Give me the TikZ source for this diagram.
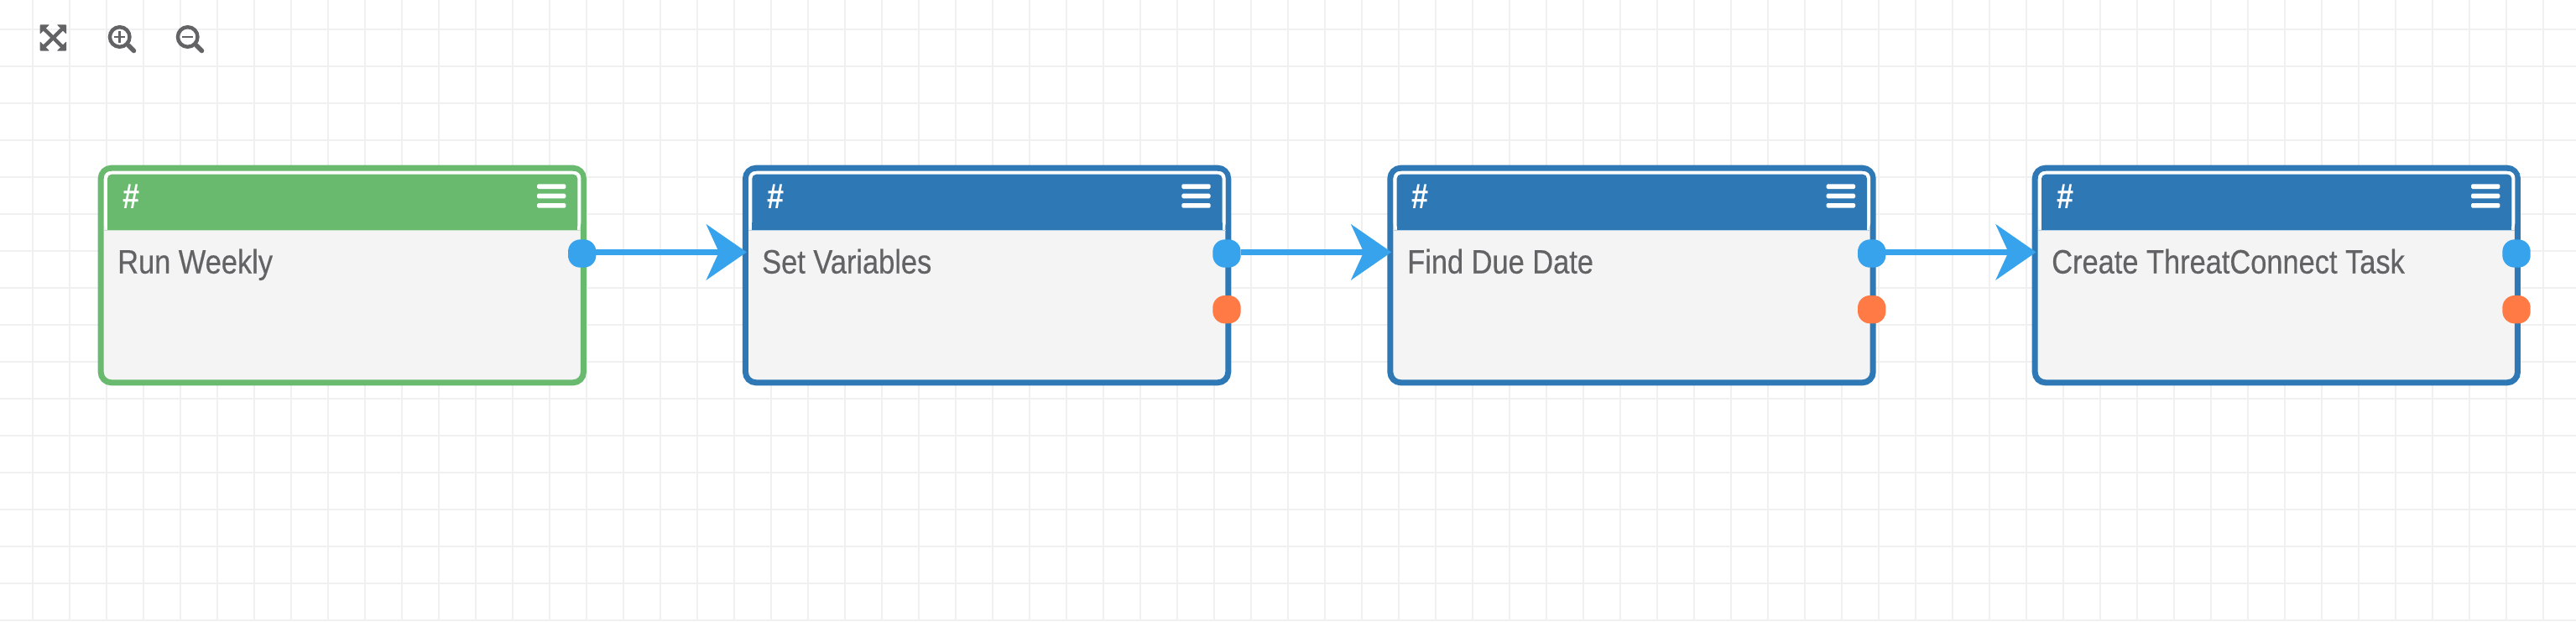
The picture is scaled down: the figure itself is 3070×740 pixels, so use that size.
\documentclass[tikz,border=0pt]{standalone}
\usepackage{fontspec}
\setmainfont[FakeStretch=0.86,FakeBold=0.35]{Liberation Sans}
\newfontfamily\hashfont[FakeStretch=0.86]{Liberation Sans Bold}
\usetikzlibrary{arrows.meta,calc}
\definecolor{gridc}{HTML}{F0F0F0}
\definecolor{greenc}{HTML}{69BA6F}
\definecolor{greenl}{HTML}{C9E3CA}
\definecolor{bluec}{HTML}{2E79B5}
\definecolor{bluel}{HTML}{B5CFE4}
\definecolor{edgec}{HTML}{36A3EC}
\definecolor{orangec}{HTML}{FF7A45}
\definecolor{inkc}{HTML}{636366}
\definecolor{bodyc}{HTML}{F4F4F4}
\tikzset{
  gridline/.style={draw=gridc,line width=2pt},
  flowbox/.style={draw=#1,fill=bodyc,line width=7pt,rounded corners=12.5pt,minimum width=575.3pt,minimum height=255.6pt,inner sep=0pt,outer sep=0pt},
  boxlabel/.style={anchor=base west,inner sep=0pt,text=inkc,font=\fontsize{40}{48}\selectfont},
  hashlabel/.style={anchor=base west,inner sep=0pt,text=white,font=\hashfont\fontsize{42}{48}\selectfont},
  portdot/.style={fill=#1,rounded corners=14.5pt,minimum size=33.4pt,inner sep=0pt,outer sep=0pt},
  connector/.style={draw=edgec,line width=7pt,-{Stealth[length=48pt,width=66pt,inset=15pt]}},
  bar/.style={fill=white,rounded corners=1.5pt},
  toolicon/.style={draw=inkc,line width=4.4pt},
}
\newcommand{\flowcard}[4]{% name, left x, colour, light colour
  \node[flowbox=#3] (#1) at (#2+290.8,328) {};
  \fill[white,rounded corners=8pt] (#2+7,204) -- (#2+575.3,204) -- (#2+575.3,274) -- (#2+7,274) -- cycle;
  \fill[#3,rounded corners=5pt] (#2+11,207.7) -- (#2+571.3,207.7) -- (#2+571.3,274.3) -- (#2+11,274.3) -- cycle;
  \fill[#3] (#2+11,265) rectangle (#2+571.3,274.3);
  \draw[#4,line width=1pt] (#2+7,274.5) -- (#2+575.3,274.5);
  \node[hashlabel] (#1h) at (#2+29,248.7) {\#};
  \fill[bar] (#2+523,219.3) rectangle (#2+557.3,225);
  \fill[bar] (#2+523,230.7) rectangle (#2+557.3,236.3);
  \fill[bar] (#2+523,242) rectangle (#2+557.3,247.7);
}
\begin{document}
\begin{tikzpicture}[x=1pt,y=-1pt]
\useasboundingbox (0,0) rectangle (3070,740);
\fill[white] (0,0) rectangle (3070,740);
\foreach \k in {0,...,69} \draw[gridline] (39+44*\k,0) -- (39+44*\k,740);
\foreach \k in {0,...,16} \draw[gridline] (0,35+44*\k) -- (3070,35+44*\k);

% toolbar
\fill[inkc,rounded corners=0.8pt] (47.7,29.3) -- (59,29.3) -- (47.7,40.6) -- cycle;
\fill[inkc,rounded corners=0.8pt] (79,29.3) -- (67.7,29.3) -- (79,40.6) -- cycle;
\fill[inkc,rounded corners=0.8pt] (47.7,60.7) -- (59,60.7) -- (47.7,49.4) -- cycle;
\fill[inkc,rounded corners=0.8pt] (79,60.7) -- (67.7,60.7) -- (79,49.4) -- cycle;
\draw[inkc,line width=4.4pt] (51,33) -- (75.7,57);
\draw[inkc,line width=4.4pt] (75.7,33) -- (51,57);
\draw[toolicon] (142.7,44) circle (11.8pt);
\draw[inkc,line width=5.5pt,line cap=round] (153,54) -- (159.5,60.5);
\draw[inkc,line width=2.8pt] (136,44) -- (149.4,44);
\draw[inkc,line width=2.8pt] (142.7,37.3) -- (142.7,50.7);
\draw[toolicon] (223.7,44) circle (11.8pt);
\draw[inkc,line width=5.5pt,line cap=round] (234,54) -- (240.5,60.5);
\draw[inkc,line width=2.8pt] (217,44) -- (230.4,44);

% cards
\flowcard{n1}{117}{greenc}{greenl}
\flowcard{n2}{885.3}{bluec}{bluel}
\flowcard{n3}{1653.7}{bluec}{bluel}
\flowcard{n4}{2422}{bluec}{bluel}

\node[boxlabel] (t1) at (140,325.7) {Run Weekly};
\node[boxlabel] (t2) at (908,325.7) {Set Variables};
\node[boxlabel] (t3) at (1677,325.7) {Find Due Date};
\node[boxlabel] (t4) at (2445,325.7) {Create ThreatConnect Task};

% ports
\node[portdot=edgec] (p1) at (693.7,302) {};
\node[portdot=edgec] (p2) at (1462,302) {};
\node[portdot=orangec] (q2) at (1462,368.7) {};
\node[portdot=edgec] (p3) at (2230.7,302) {};
\node[portdot=orangec] (q3) at (2230.7,368.7) {};
\node[portdot=edgec] (p4) at (2999,302) {};
\node[portdot=orangec] (q4) at (2999,368.7) {};

% connectors
\coordinate (i2) at ($(n2.west)+(1.4,-27.6)$);
\coordinate (i3) at ($(n3.west)+(1.4,-27.6)$);
\coordinate (i4) at ($(n4.west)+(1.4,-27.6)$);
\draw[connector] (p1.east |- i2) -- (i2);
\draw[connector] (p2.east |- i3) -- (i3);
\draw[connector] (p3.east |- i4) -- (i4);
\end{tikzpicture}
\end{document}
